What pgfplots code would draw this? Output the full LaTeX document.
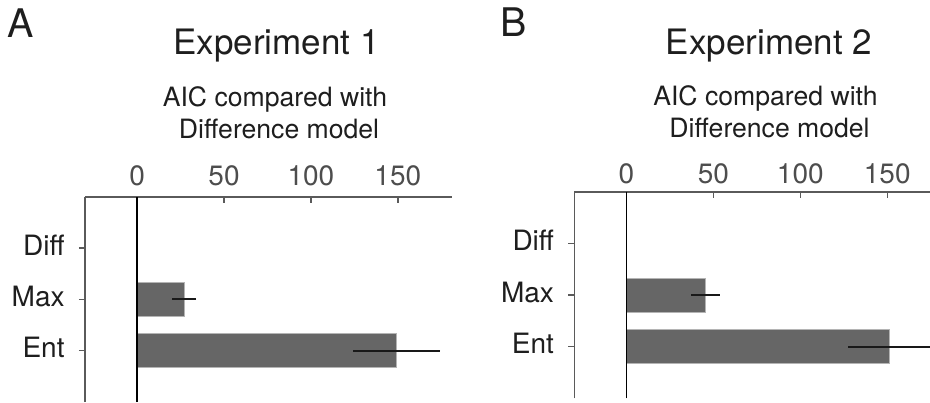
\documentclass[border=0pt]{standalone}
\usepackage{pgfplots}
\pgfplotsset{compat=1.18}
\usepackage{fontspec}
\setmainfont{TeX Gyre Heros}
\definecolor{barcol}{HTML}{666666}
\definecolor{edgecol}{HTML}{B4B4B4}
\definecolor{axcol}{HTML}{5A5A5A}
\definecolor{tickcol}{HTML}{4D4D4D}
\definecolor{txtcol}{HTML}{1E1E1E}
\pgfplotsset{
  aic/.style={
    scale only axis,
    xmin=-30, ymin=0, ymax=4,
    axis x line=top, axis y line=left,
    axis line style={-, axcol, line width=0.8pt},
    tick align=inside, major tick length=3pt,
    every tick/.style={axcol, line width=0.7pt},
    xtick={0,50,100,150},
    ytick={1,2,3}, yticklabels={Ent,Max,Diff},
    /pgf/number format/assume math mode=true,
    xticklabel style={anchor=base, inner sep=0pt, font=\fontsize{14}{16}\selectfont, text=tickcol},
    yticklabel style={anchor=east, inner sep=0pt, xshift=-7pt, yshift=1.5pt, font=\fontsize{14}{16}\selectfont, text=txtcol},
    xbar, bar width=17pt,
    clip=true,
  },
  barsty/.style={fill=barcol, draw=edgecol, line width=0.4pt,
    error bars/.cd, x dir=both, x explicit, error mark=none,
    error bar style={black!90, line width=1pt}},
  zeroline/.style={sharp plot, no markers, black, line width=0.8pt, forget plot},
}
\begin{document}
\begin{tikzpicture}
\path[use as bounding box] (0,0) rectangle (465pt,201pt);
% Panel A
\begin{axis}[aic, at={(42.5pt,0pt)}, anchor=south west,
  width=183.35pt, height=102.65pt, xmax=181,
  xticklabel style={yshift=5.85pt}]
  \addplot[barsty] coordinates {
    (0,3) +- (0,0)
    (27,2) +- (7,0)
    (149.3,1) +- (25,0)
  };
  \addplot[zeroline] coordinates {(0,0) (0,4)};
\end{axis}
% Panel B
\begin{axis}[aic, at={(287.15pt,1.85pt)}, anchor=south west,
  width=177.85pt, height=103.3pt, xmax=174.6,
  xticklabel style={yshift=4.35pt}]
  \addplot[barsty] coordinates {
    (0,3) +- (0,0)
    (45.5,2) +- (8.2,0)
    (151.5,1) +- (24,0)
  };
  \addplot[zeroline] coordinates {(0,0) (0,4)};
\end{axis}
% Titles and labels
\begin{scope}[every node/.style={inner sep=0pt, text=txtcol}]
\node[anchor=base west, font=\fontsize{19.7}{22}\selectfont] at (3.6pt,182.2pt) {A};
\node[anchor=base west, font=\fontsize{19.7}{22}\selectfont] at (250pt,182.5pt) {B};
\node[anchor=base, font=\fontsize{17.5}{20}\selectfont] at (138.25pt,173.5pt) {Experiment 1};
\node[anchor=base, font=\fontsize{17.5}{20}\selectfont] at (384.5pt,173.5pt) {Experiment 2};
\node[anchor=base, font=\fontsize{13.3}{15}\selectfont] at (137.5pt,147.5pt) {AIC compared with};
\node[anchor=base, font=\fontsize{13.3}{15}\selectfont] at (139.5pt,131.85pt) {Difference model};
\node[anchor=base, font=\fontsize{13.3}{15}\selectfont] at (382.75pt,148pt) {AIC compared with};
\node[anchor=base, font=\fontsize{13.3}{15}\selectfont] at (384.75pt,132.3pt) {Difference model};
\end{scope}
\end{tikzpicture}
\end{document}
